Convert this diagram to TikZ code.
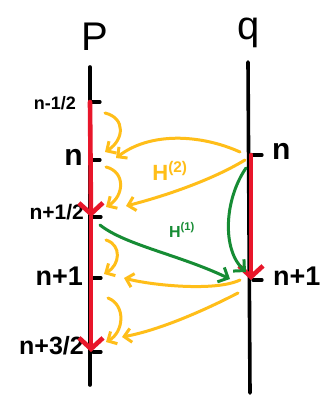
\documentclass[tikz,border=0pt]{standalone}
\usepackage{fontspec}
\setmainfont{Liberation Sans}
\usetikzlibrary{arrows.meta,calc}
\definecolor{myred}{RGB}{232,22,42}
\definecolor{myyellow}{RGB}{255,190,25}
\definecolor{mygreen}{RGB}{22,140,52}
\begin{document}
\begin{tikzpicture}[x=1pt,y=-1pt,line cap=round,line join=round,
  axisline/.style={line width=3.6pt,black},
  tickline/.style={line width=3.2pt,black},
  redarr/.style={line width=4.6pt,myred,-{Straight Barb[length=11pt,width=24pt]}},
  yelarr/.style={line width=3pt,myyellow,-{Straight Barb[length=7pt,width=14pt]}},
  grnarr/.style={line width=3pt,mygreen,-{Straight Barb[length=8pt,width=16pt]}},
  lab/.style={inner sep=0pt,text=black}]
\useasboundingbox (0,0) rectangle (335,395);
\fill[white] (0,0) rectangle (335,395);
% coordinates
\coordinate (Ltop) at (90,67);
\coordinate (Lbot) at (90,385);
\coordinate (Rtop) at (248,62);
\coordinate (Rbot) at (250,393);
\coordinate (L1) at (90,102);
\coordinate (L2) at (90,160);
\coordinate (L3) at (91,217);
\coordinate (L4) at (91,278);
\coordinate (L5) at (91,352);
\coordinate (R1) at (251,155);
\coordinate (R2) at (251,280);
% titles
\node[lab,font=\fontsize{40}{40}\selectfont] (P) at (95,37) {P};
\node[lab,font=\fontsize{40}{40}\selectfont] (Q) at (249,33) {q};
% axes
\draw[axisline] (Ltop) -- (Lbot);
\draw[axisline] (Rtop) -- (Rbot);
% ticks
\foreach \c in {L1,L2,L3,L4,L5}{\draw[tickline] ($(\c)+(2,0)$) -- ($(\c)+(10,0)$);}
\foreach \c in {R1,R2}{\draw[tickline] ($(\c)+(2,0)$) -- ($(\c)+(11,0)$);}
% labels
\node[lab,anchor=east,font=\bfseries\fontsize{18}{18}\selectfont] (t1) at (76,103) {n-1/2};
\node[lab,anchor=east,font=\bfseries\fontsize{30}{30}\selectfont] (t2) at (83,157) {n};
\node[lab,anchor=east,font=\bfseries\fontsize{21}{21}\selectfont] (t3) at (84,212) {n+1/2};
\node[lab,anchor=east,font=\bfseries\fontsize{27}{27}\selectfont] (t4) at (83,276) {n+1};
\node[lab,anchor=east,font=\bfseries\fontsize{25}{25}\selectfont] (t5) at (84,346) {n+3/2};
\node[lab,anchor=west,font=\bfseries\fontsize{30}{30}\selectfont] (t6) at (272,151) {n};
\node[lab,anchor=west,font=\bfseries\fontsize{27}{27}\selectfont] (t7) at (273,276) {n+1};
% red arrows
\draw[redarr] (L1) -- (L3);
\draw[redarr] (L3) -- (L5);
\draw[redarr] (R1) -- (R2);
% small yellow arrows
\coordinate (a1) at (105,113); \coordinate (b1) at (105,152);
\coordinate (a2) at (106,167); \coordinate (b2) at (106,207);
\coordinate (a3) at (106,240); \coordinate (b3) at (104,274);
\coordinate (a4) at (108,298); \coordinate (b4) at (106,342);
\draw[yelarr] (a1) .. controls (126,118) and (124,140) .. (b1);
\draw[yelarr] (a2) .. controls (126,172) and (124,196) .. (b2);
\draw[yelarr] (a3) .. controls (122,245) and (120,265) .. (b3);
\draw[yelarr] (a4) .. controls (126,305) and (124,332) .. (b4);
% big yellow arrows
\coordinate (c1) at (240,152); \coordinate (d1) at (116,158);
\coordinate (c2) at (245,160); \coordinate (d2) at (126,206);
\coordinate (c3) at (240,280); \coordinate (d3) at (124,278);
\coordinate (c4) at (238,293); \coordinate (d4) at (122,337);
\draw[yelarr] (c1) .. controls (200,134) and (150,132) .. (d1);
\draw[yelarr] (c2) .. controls (212,180) and (165,196) .. (d2);
\draw[yelarr] (c3) .. controls (215,292) and (150,285) .. (d3);
\draw[yelarr] (c4) .. controls (205,310) and (160,330) .. (d4);
\node[text=myyellow,font=\bfseries\fontsize{22}{22}\selectfont,inner sep=0pt] (H2) at (170,171) {H\textsuperscript{(2)}};
% green arrows
\coordinate (g1) at (100,225); \coordinate (h1) at (230,279);
\coordinate (g2) at (246,168); \coordinate (h2) at (246,272);
\draw[grnarr] (g1) .. controls (125,245) and (180,255) .. (h1);
\draw[grnarr] (g2) .. controls (224,200) and (222,250) .. (h2);
\node[text=mygreen,font=\bfseries\fontsize{16}{16}\selectfont,inner sep=0pt] (H1) at (182,230) {H\textsuperscript{(1)}};
\end{tikzpicture}
\end{document}
